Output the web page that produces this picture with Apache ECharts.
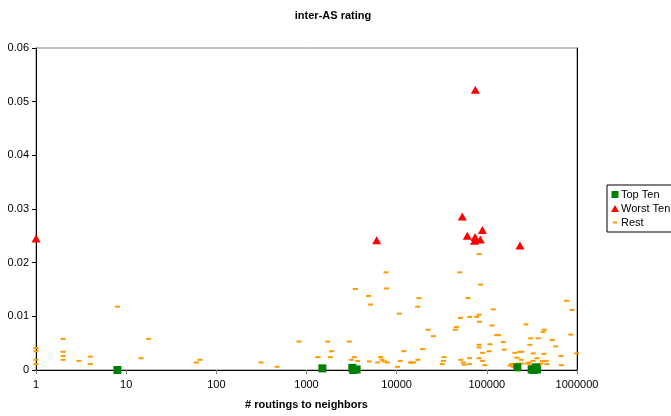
<!DOCTYPE html>
<html>
<head>
<meta charset="utf-8">
<script src="https://cdn.jsdelivr.net/npm/echarts@6/dist/echarts.min.js"></script>
<style>
html,body{margin:0;padding:0;background:#fff;}
#c{width:671px;height:416px;}
</style>
</head>
<body>
<div id="c"></div>
<script>
var titleText = 'inter-AS rating';
var xAxisTitle = '# routings to neighbors';
var seriesNames = ['Top Ten', 'Worst Ten', 'Rest'];
var yTicks = [0, 0.01, 0.02, 0.03, 0.04, 0.05, 0.06];
var xTicks = [1, 10, 100, 1000, 10000, 100000, 1000000];

var topTenX = [8, 1500, 3220, 3300, 3600, 218000, 314000, 330000, 350000, 360000];
var topTenY = [0, 0.0003, 0.0004, 0.0000, 0.0001, 0.0005, 0.0001, 0.0000, 0.0005, 0.0001];

var worstTenX = [1, 6000, 53400, 60700, 74000, 73000, 84700, 89200, 74500, 233000];
var worstTenY = [0.0245, 0.0242, 0.0286, 0.0250, 0.0248, 0.0241, 0.0243, 0.0261, 0.0522, 0.0232];

var restX = [1, 1, 1, 1, 2, 2, 2, 2, 3, 4, 4, 8, 14.6, 17.8, 60, 66, 313, 471, 826, 1340,
  1718, 1837, 1900, 2985, 3140, 3390, 3476, 3690, 4890, 4980, 5140, 6150, 6650, 6900, 7300, 7620,
  7720, 7900, 10200, 10700, 11000, 12000, 14300, 14500, 15400, 17200, 17100, 17700, 19400, 22300,
  25500, 32000, 33000, 33500, 44700, 46000, 50000, 51000, 51500, 54800, 56000, 61800, 64500, 64500,
  64500, 77000, 82000, 83000, 85000, 82000, 82000, 82000, 82000, 89800, 90000, 95000, 108000, 106000,
  118000, 114000, 128500, 135000, 152000, 156000, 272000, 306000, 372000, 434000, 420000, 532000,
  580000, 300000, 233000, 245000, 205000, 327000, 430000, 216000, 240000, 360000, 327000, 415000,
  455000, 664000, 990000, 670000, 465000, 400000, 380000, 188000, 205000, 222000, 243000, 280000,
  296000, 308000, 182000, 197000, 768000, 880000, 855000];
var restY = [0.0041, 0.0035, 0.0019, 0.0011, 0.0058, 0.0034, 0.0026, 0.0019, 0.0017, 0.0025, 0.0011, 0.0118, 0.0022, 0.0058, 0.0014, 0.0019, 0.0014, 0.0006, 0.0053, 0.0024,
  0.0053, 0.0024, 0.0035, 0.0053, 0.0019, 0.0024, 0.0151, 0.0017, 0.0138, 0.0016, 0.0122, 0.0014, 0.0024, 0.0019, 0.0016, 0.0182,
  0.0152, 0.0014, 0.0006, 0.0105, 0.0017, 0.0035, 0.0014, 0.0014, 0.0014, 0.0019, 0.0118, 0.0134, 0.0039, 0.0075,
  0.0063, 0.0011, 0.0017, 0.0024, 0.0075, 0.0080, 0.0182, 0.0097, 0.0019, 0.0014, 0.0010, 0.0134, 0.0099, 0.0022,
  0.0011, 0.0099, 0.0103, 0.0090, 0.0159, 0.0216, 0.0047, 0.0042, 0.0022, 0.0032, 0.0017, 0.0009, 0.0048, 0.0035,
  0.0113, 0.0083, 0.0065, 0.0065, 0.0052, 0.0038, 0.0085, 0.0059, 0.0059, 0.0075, 0.0071, 0.0056,
  0.0044, 0.0047, 0.0034, 0.0034, 0.0032, 0.0031, 0.0030, 0.0023, 0.0019, 0.0022, 0.0017, 0.0017,
  0.0017, 0.0026, 0.0031, 0.0009, 0.0011, 0.0012, 0.0009, 0.0011, 0.0011, 0.0012, 0.0012, 0.0012,
  0.0014, 0.0009, 0.0008, 0.0006, 0.0129, 0.0112, 0.0066];

function pairs(xs, ys) { return xs.map(function (x, i) { return [x, ys[i]]; }); }

var FONT = '"Liberation Sans", Arial, sans-serif';
var chart = echarts.init(document.getElementById('c'), null, { renderer: 'canvas' });
chart.setOption({
  animation: false,
  backgroundColor: '#ffffff',
  title: {
    text: titleText,
    left: 328,
    top: 5,
    textAlign: 'center',
    textStyle: { fontFamily: FONT, fontSize: 11, fontWeight: 'bold', color: '#000' }
  },
  legend: {
    orient: 'vertical',
    left: 607,
    top: 185,
    data: [
      { name: seriesNames[0], icon: 'path://M0,0M8,8M0.5,0.5h7v7h-7z' },
      { name: seriesNames[1], icon: 'path://M0,0M8,8M4,0.5L8,7.5L0,7.5z' },
      { name: seriesNames[2], icon: 'path://M0,0M8,8M2,3h4v2h-4z' }
    ],
    itemWidth: 8,
    itemHeight: 8,
    itemGap: 3,
    padding: [4, 4, 4, 4],
    borderColor: '#000',
    borderWidth: 1,
    backgroundColor: '#fff',
    textStyle: { fontFamily: FONT, fontSize: 11, color: '#000', padding: [0, 0, 0, -3] },
    selectedMode: false
  },
  grid: {
    left: 36, right: 94, top: 48, bottom: 46,
    show: true, borderColor: '#808080', borderWidth: 1, containLabel: false
  },
  xAxis: {
    type: 'log',
    logBase: 10,
    min: xTicks[0],
    max: xTicks[xTicks.length - 1],
    name: xAxisTitle,
    nameLocation: 'middle',
    nameGap: 29,
    nameTextStyle: { fontFamily: FONT, fontSize: 11, fontWeight: 'bold', color: '#000' },
    axisLine: { onZero: false, lineStyle: { color: '#000', width: 1 } },
    axisTick: { show: true, inside: false, length: 4, lineStyle: { color: '#808080' } },
    minorTick: { show: false },
    splitLine: { show: false },
    axisLabel: {
      fontFamily: FONT, fontSize: 11, color: '#000', margin: 9,
      formatter: function (v) { return String(Math.round(v)); }
    }
  },
  yAxis: [{
    type: 'value',
    min: yTicks[0],
    max: yTicks[yTicks.length - 1],
    interval: 0.01,
    axisLine: { show: true, lineStyle: { color: '#000', width: 1 } },
    axisTick: { show: true, inside: false, length: 4, lineStyle: { color: '#000' } },
    splitLine: { show: false },
    axisLabel: {
      fontFamily: FONT, fontSize: 11, color: '#000', margin: 7,
      formatter: function (v) { return String(+v.toFixed(2)); }
    }
  }, {
    type: 'value',
    position: 'right',
    min: yTicks[0],
    max: yTicks[yTicks.length - 1],
    interval: 0.01,
    axisLine: { show: true, lineStyle: { color: '#000', width: 1 } },
    axisTick: { show: false },
    splitLine: { show: false },
    axisLabel: { show: false }
  }],
  series: [{
    name: seriesNames[2],
    type: 'scatter',
    clip: false,
    symbol: 'rect',
    symbolSize: [5, 2],
    itemStyle: { color: '#FF9900', opacity: 1 },
    data: pairs(restX, restY),
    z: 2
  }, {
    name: seriesNames[0],
    type: 'scatter',
    clip: false,
    symbol: 'rect',
    symbolSize: 8,
    itemStyle: { color: '#008000', opacity: 1 },
    data: pairs(topTenX, topTenY),
    z: 3
  }, {
    name: seriesNames[1],
    type: 'scatter',
    clip: false,
    symbol: 'triangle',
    symbolSize: [9, 8],
    itemStyle: { color: '#FF0000', opacity: 1 },
    data: pairs(worstTenX, worstTenY),
    z: 4
  }]
});
</script>
</body>
</html>
